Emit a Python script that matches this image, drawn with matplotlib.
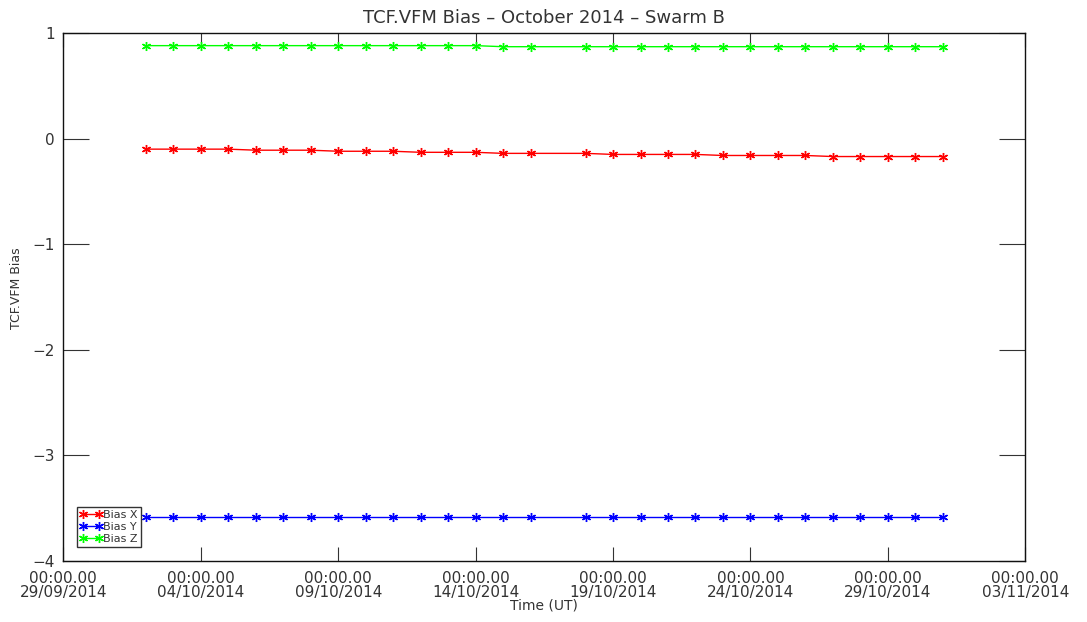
import matplotlib
matplotlib.use("Agg")
import matplotlib.pyplot as plt
import matplotlib.dates as mdates
import pandas as pd

# daily bias solutions, no solution on 17/10
days = [d for d in pd.date_range("2014-10-02", "2014-10-31", freq="D")
        if d != pd.Timestamp("2014-10-17")]

bias_x = [-0.10, -0.10, -0.10, -0.10, -0.11, -0.11, -0.11, -0.12, -0.12, -0.12,
          -0.13, -0.13, -0.13, -0.14, -0.14,
          -0.14, -0.15, -0.15, -0.15, -0.15, -0.16, -0.16, -0.16, -0.16,
          -0.17, -0.17, -0.17, -0.17, -0.17]
bias_y = [-3.58] * 29
bias_z = [0.88] * 13 + [0.87] * 16

series = [("Bias X", bias_x, "#ff0000"),
          ("Bias Y", bias_y, "#0000ff"),
          ("Bias Z", bias_z, "#00ff00")]

tick_days = pd.date_range("2014-09-29", "2014-11-03", freq="5D")
txt = "#333333"

fig = plt.figure(figsize=(10.87, 6.22), dpi=100)
ax = fig.add_axes([0.0583, 0.098, 0.8849, 0.849])

star = (6, 2, 0)
for name, vals, col in series:
    ax.plot(days, vals, color=col, lw=1.0, marker=star, ms=6.5, mew=1.0,
            label=name)

ax.set_xlim(pd.Timestamp("2014-09-29"), pd.Timestamp("2014-11-03"))
ax.set_ylim(-4, 1)
ax.set_yticks([-4, -3, -2, -1, 0, 1])
ax.set_yticklabels(["\u22124", "\u22123", "\u22122", "\u22121", "0", "1"])
ax.set_xticks(tick_days)
ax.xaxis.set_major_formatter(mdates.DateFormatter("%H:%M.%S\n%d/%m/%Y"))

ax.tick_params(axis="x", direction="in", length=10, top=True, bottom=True,
               labelsize=11, pad=7, colors=txt)
ax.tick_params(axis="y", direction="in", length=19, left=True, right=True,
               labelsize=11, pad=6, colors=txt)
for lab in ax.get_xticklabels():
    lab.set_linespacing(0.9)
for s in ax.spines.values():
    s.set_color("#111111")
    s.set_linewidth(1.0)

ax.set_title("TCF.VFM Bias \u2013 October 2014 \u2013 Swarm B", fontsize=13,
             color=txt, pad=7)
ax.set_xlabel("Time (UT)", fontsize=10, color=txt, labelpad=-1)
ax.set_ylabel("TCF.VFM Bias", fontsize=9, color=txt, labelpad=6)
ax.yaxis.set_label_coords(-0.042, 0.517)

leg = ax.legend(loc="lower left", bbox_to_anchor=(0.0145, 0.027), fontsize=8,
                numpoints=2, handlelength=2.0, handletextpad=0.1,
                borderpad=0.25, labelspacing=0.2, borderaxespad=0,
                frameon=True, fancybox=False, framealpha=1)
leg.get_frame().set_edgecolor("#333333")
leg.get_frame().set_linewidth(1.0)
for t in leg.get_texts():
    t.set_color(txt)

fig.savefig("out.png", dpi=100)
